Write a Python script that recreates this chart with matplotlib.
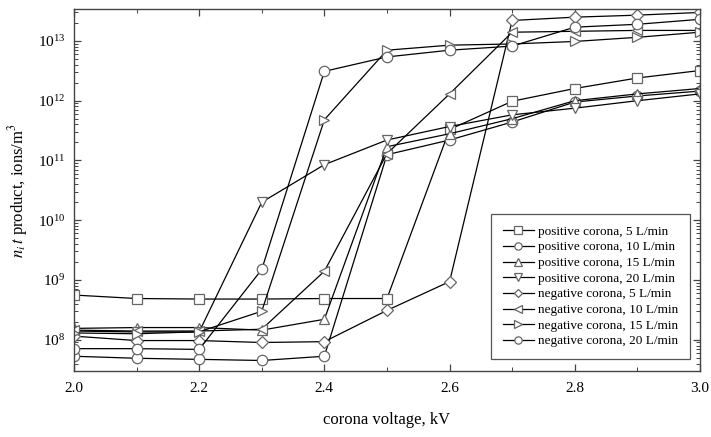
import numpy as np
import matplotlib
matplotlib.use('Agg')
import matplotlib.pyplot as plt
from matplotlib.ticker import LogLocator, MultipleLocator, NullFormatter, LogFormatterSciNotation

plt.rcParams['font.family'] = ['Liberation Serif', 'DejaVu Serif']
plt.rcParams['mathtext.fontset'] = 'stix'

# corona voltage, kV
voltage = [2.0, 2.1, 2.2, 2.3, 2.4, 2.5, 2.6, 2.7, 2.8, 2.9, 3.0]

# n_i*t product, ions/m^3
pos_5 = [5.6e8, 4.9e8, 4.8e8, 4.8e8, 4.9e8, 4.9e8, 3.3e11, 9.8e11, 1.6e12, 2.4e12, 3.2e12]
pos_10 = [5.3e7, 4.9e7, 4.7e7, 4.5e7, 5.3e7, 1.25e11, 2.2e11, 4.4e11, 9.5e11, 1.2e12, 1.45e12]
pos_15 = [1.55e8, 1.6e8, 1.6e8, 1.45e8, 2.2e8, 1.7e11, 2.8e11, 5.0e11, 1.0e12, 1.3e12, 1.6e12]
pos_20 = [1.4e8, 1.35e8, 1.35e8, 2.0e10, 8.5e10, 2.2e11, 3.7e11, 5.8e11, 7.5e11, 1.0e12, 1.3e12]
neg_5 = [1.15e8, 9.7e7, 9.7e7, 9.0e7, 9.3e7, 3.1e8, 9.4e8, 2.2e13, 2.5e13, 2.7e13, 3.0e13]
neg_10 = [1.45e8, 1.4e8, 1.4e8, 1.5e8, 1.4e9, 1.3e11, 1.3e12, 1.4e13, 1.45e13, 1.5e13, 1.5e13]
neg_15 = [1.3e8, 1.26e8, 1.36e8, 3.0e8, 4.8e11, 7.0e12, 8.5e12, 8.9e12, 9.8e12, 1.15e13, 1.4e13]
neg_20 = [7.1e7, 7.1e7, 6.9e7, 1.5e9, 3.1e12, 5.4e12, 7.0e12, 8.2e12, 1.7e13, 1.9e13, 2.3e13]

y_ticks = [1e8, 1e9, 1e10, 1e11, 1e12, 1e13]

series = [
    (pos_5, 's', 'positive corona, 5 L/min'),
    (pos_10, 'o', 'positive corona, 10 L/min'),
    (pos_15, '^', 'positive corona, 15 L/min'),
    (pos_20, 'v', 'positive corona, 20 L/min'),
    (neg_5, 'D', 'negative corona, 5 L/min'),
    (neg_10, '<', 'negative corona, 10 L/min'),
    (neg_15, '>', 'negative corona, 15 L/min'),
    (neg_20, 'o', 'negative corona, 20 L/min'),
]

fig = plt.figure(figsize=(7.11, 4.37), dpi=100)
ax = fig.add_axes([0.104, 0.151, 0.8805, 0.828])

for values, marker, label in series:
    ms = 6.5 if marker == 'D' else 7.5
    ax.plot(voltage, values, color='black', lw=0.9, marker=marker, ms=ms,
            mfc='white', mec='#666666', mew=0.9, label=label)

ax.set_yscale('log')
ax.set_xlim(2.0, 3.0)
ax.set_ylim(3.0e7, 3.4e13)

ax.xaxis.set_major_locator(MultipleLocator(0.2))
ax.xaxis.set_minor_locator(MultipleLocator(0.1))
ax.xaxis.set_major_formatter(matplotlib.ticker.FormatStrFormatter('%.1f'))
ax.set_yticks(y_ticks)
ax.yaxis.set_major_formatter(LogFormatterSciNotation())
ax.yaxis.set_minor_locator(LogLocator(base=10, subs=np.arange(2, 10), numticks=20))
ax.yaxis.set_minor_formatter(NullFormatter())

ax.tick_params(which='both', direction='in', top=True, right=True,
               labelsize=11, color='#444444')
ax.tick_params(axis='x', pad=8)
ax.tick_params(axis='y', pad=6)
ax.tick_params(which='major', length=5, width=0.9)
ax.tick_params(which='minor', length=3, width=0.7)
for sp in ax.spines.values():
    sp.set_color('#444444')
    sp.set_linewidth(1.0)

ax.set_xlabel('corona voltage, kV', fontsize=12, labelpad=12)
ax.set_ylabel('$n_i\\,t$ product, ions/m$^3$', fontsize=12, labelpad=6)

leg = ax.legend(loc='lower right', bbox_to_anchor=(0.995, 0.014), fontsize=9.5,
                frameon=True, fancybox=False, edgecolor='#555555', framealpha=1,
                numpoints=1, markerscale=0.7, handlelength=2.4, handletextpad=0.3,
                labelspacing=0.26, borderpad=0.9)
leg.get_frame().set_linewidth(0.9)

fig.savefig('out.png', dpi=100)
